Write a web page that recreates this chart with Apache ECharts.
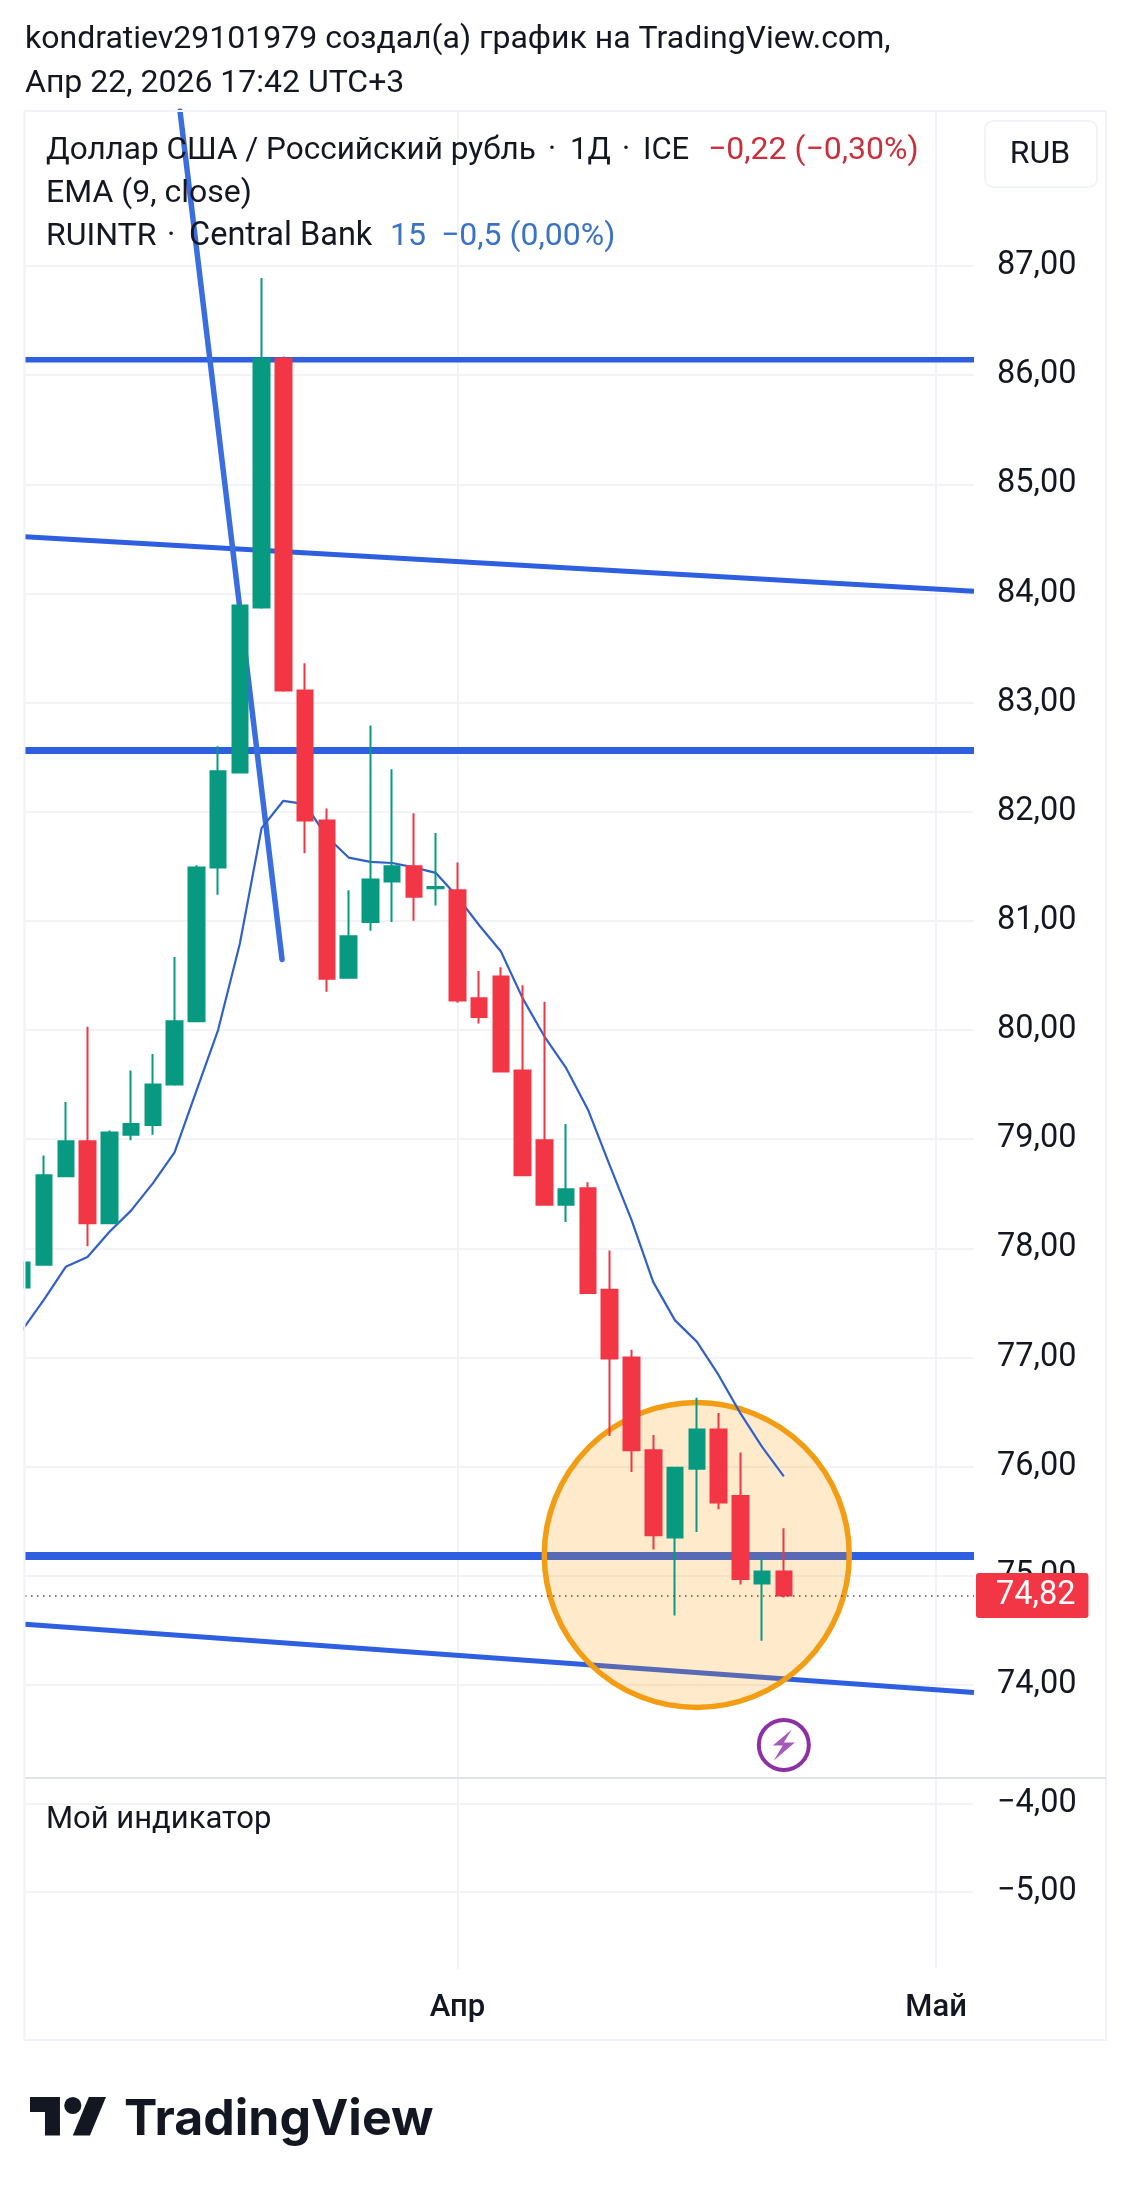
<!DOCTYPE html>
<html><head><meta charset="utf-8">
<style>html,body{margin:0;padding:0;background:#fff}#c{width:1131px;height:2194px}</style>
<script src="https://cdn.jsdelivr.net/npm/echarts@6/dist/echarts.min.js"></script>
</head><body><div id="c"></div>
<script>
// session index = array position - 1 (first session is cut by the left edge)
const opens  = [77.64,77.85,78.66,78.98,78.23,79.04,79.13,79.50,80.08,81.49,82.36,83.87,86.15,83.11,81.92,80.48,80.99,81.36,81.50,81.30,81.28,80.29,80.49,79.63,78.99,78.40,78.55,77.62,77.00,76.15,75.35,75.98,76.34,75.73,74.93,75.04];
const closes = [77.87,78.67,78.98,78.23,79.06,79.14,79.50,80.08,81.49,82.37,83.89,86.15,83.11,81.92,80.47,80.86,81.38,81.50,81.22,81.31,80.27,80.12,79.62,78.67,78.40,78.54,77.59,76.99,76.15,75.37,75.99,76.34,75.67,74.97,75.04,74.82];
const lows   = [77.64,77.85,78.66,78.02,78.23,78.99,79.04,79.49,80.08,81.24,82.36,83.86,83.10,81.62,80.35,80.47,80.91,80.99,81.00,81.14,80.25,80.06,79.62,78.67,78.39,78.24,77.59,76.28,75.95,75.24,74.635,75.40,75.61,74.92,74.405,74.80];
const highs  = [77.87,78.85,79.34,80.03,79.08,79.63,79.78,80.67,81.51,82.60,83.89,86.89,86.17,83.36,82.03,81.28,82.79,82.39,81.985,81.805,81.535,80.54,80.575,80.41,80.26,79.14,78.605,77.98,77.07,76.29,75.996,76.63,76.49,76.13,75.16,75.435];
const emaLine= [77.25,77.53,77.83,77.92,78.15,78.345,78.595,78.88,79.44,80.0,80.79,81.85,82.10,82.07,81.77,81.58,81.54,81.53,81.49,81.44,81.22,80.96,80.72,80.29,79.94,79.65,79.27,78.76,78.26,77.69,77.34,77.145,76.84,76.49,76.18,75.91];
const lastPrice = 74.82;
const levelHigh = 86.14, levelMid = 82.56, levelLow = 75.18;
const xStart = -0.873, xEnd = 42.74;
const channelTop = [[xStart,84.52],[xEnd,84.02]];
const channelBottom = [[xStart,74.555],[xEnd,73.93]];
const steepLine = [[6.25,88.42],[10.94,80.647]];
const highlight = [30,75.19];
const flash = [34,73.45];
const priceTicks = [74,75,76,77,78,79,80,81,82,83,84,85,86,87];
const indicatorTicks = [-5,-4];
const monthTicks = [19,41];
const monthLabels = ['Апр','Май'];
const FONT = 'Roboto';
const INK = '#131722';
const fmt = v => v.toFixed(2).replace('.',',').replace('-','−');

const candleRows = opens.map((o,i)=>[i-1,o,closes[i],lows[i],highs[i]]);
const emaRows = emaLine.map((v,i)=>[i-1,v]);
const segment = (pts,w,cap)=>({type:'line',data:pts,symbol:'none',silent:true,z:1,animation:false,
  lineStyle:{color:'#2e5fe0',width:w,cap:cap||'butt'},xAxisIndex:0,yAxisIndex:0});

const tx=(text,x,y,o)=>({type:'text',x,y:y+2,z:50,silent:true,style:Object.assign({text,fontFamily:FONT,fontSize:32,fill:INK,verticalAlign:'middle'},o||{})});
const logoScale=2.14,logoX=30,logoY=2088.4;
const lp=pts=>pts.map(p=>[logoX+p[0]*logoScale,logoY+p[1]*logoScale]);

const option={
  backgroundColor:'#ffffff',animation:false,
  grid:[
    {left:25,top:111,width:949,height:1667,containLabel:false},
    {left:25,top:1778,width:949,height:191,containLabel:false}
  ],
  xAxis:[0,1].map(g=>({type:'value',gridIndex:g,min:xStart,max:xEnd,
    axisLine:{show:false},axisTick:{show:false,customValues:monthTicks},
    axisLabel:{show:g===1,customValues:monthTicks,formatter:v=>monthLabels[monthTicks.indexOf(v)],
      margin:24,fontFamily:FONT,fontSize:31,fontWeight:500,color:INK,hideOverlap:false},
    splitLine:{show:true,lineStyle:{color:'#f0f3fa',width:2}}})),
  yAxis:[
    {type:'value',gridIndex:0,position:'right',min:73.147,max:88.42,
     axisLine:{show:false},axisTick:{show:false,customValues:priceTicks},
     axisLabel:{customValues:priceTicks,formatter:fmt,margin:23,padding:[8,0,0,0],fontFamily:FONT,fontSize:32.5,color:INK},
     splitLine:{show:true,lineStyle:{color:'#f2f3f6',width:2}}},
    {type:'value',gridIndex:1,position:'right',min:-5.875,max:-3.705,
     axisLine:{show:false},axisTick:{show:false,customValues:indicatorTicks},
     axisLabel:{customValues:indicatorTicks,formatter:fmt,margin:23,padding:[6,0,0,0],fontFamily:FONT,fontSize:32.5,color:INK},
     splitLine:{show:true,lineStyle:{color:'#f2f3f6',width:2}}}
  ],
  series:[
    segment([[xStart,levelHigh],[xEnd,levelHigh]],5.5),
    segment([[xStart,levelMid],[xEnd,levelMid]],7),
    segment([[xStart,levelLow],[xEnd,levelLow]],8),
    segment(channelTop,5),
    segment(channelBottom,5),
    Object.assign(segment(steepLine,5.5,'round'),{lineStyle:{color:'#3a6ee0',width:5.5,cap:'round'}}),
    {type:'scatter',data:[highlight],symbol:'circle',symbolSize:305,z:2,silent:true,clip:false,
     itemStyle:{color:'rgba(255,152,0,0.2)',borderColor:'#f29d13',borderWidth:5.5,opacity:1}},
    {type:'line',data:emaRows,symbol:'none',z:3,silent:true,smooth:false,
     lineStyle:{color:'#3060c8',width:2.2},
     markLine:{silent:true,symbol:'none',animation:false,
       lineStyle:{color:'#8a3a45',type:[1.5,4.5],width:1.5},
       label:{position:'end',distance:2,formatter:fmt(lastPrice),color:'#fff',backgroundColor:'#f23645',
         borderRadius:3,fontFamily:FONT,fontSize:32.5,padding:[7,13,5,20]},
       data:[{yAxis:lastPrice}]}},
    {type:'candlestick',data:candleRows,barWidth:16,z:4,silent:true,
     itemStyle:{color:'#089981',color0:'#f23645',borderColor:'#089981',borderColor0:'#f23645',borderWidth:2}},
    {type:'scatter',data:[flash],symbol:'circle',symbolSize:50,z:5,silent:true,clip:false,
     itemStyle:{color:'rgba(255,255,255,0)',borderColor:'#8e2fa8',borderWidth:4,opacity:1}},
    {type:'scatter',data:[flash],symbol:'path://M19 0 L0 17 L10 17 L1 33 L22 14 L11 14 Z',symbolSize:[22,31],z:5,silent:true,clip:false,
     itemStyle:{color:'#8e2fa8'}},
    {type:'line',xAxisIndex:1,yAxisIndex:1,data:[],symbol:'none'}
  ],
  graphic:[
    {type:'rect',z:30,silent:true,shape:{x:0,y:111,width:23.5,height:1667},style:{fill:'#fff'}},
    {type:'rect',z:31,silent:true,shape:{x:24.5,y:111,width:1081.5,height:1929},style:{fill:'none',stroke:'#f0f3fa',lineWidth:2}},
    {type:'line',z:31,silent:true,shape:{x1:25,y1:1778,x2:1106,y2:1778},style:{stroke:'#e0e3eb',lineWidth:2}},
    {type:'rect',z:40,silent:true,shape:{x:985,y:121,width:112,height:66,r:8},style:{fill:'#fff',stroke:'#f0f3fa',lineWidth:2}},
    tx('RUB',1040,153,{align:'center'}),
    tx('kondratiev29101979 создал(а) график на TradingView.com,',25,38),
    tx('Апр 22, 2026 17:42 UTC+3',25,82),
    tx('Доллар США / Российский рубль',46,149,{fontSize:31.5}),
    tx('·',548,149,{fontSize:31}),
    tx('1Д',570,149,{fontSize:31}),
    tx('·',622,149,{fontSize:31}),
    tx('ICE',643,149,{fontSize:31}),
    tx('−0,22 (−0,30%)',708,149,{fill:'#cc2f3c'}),
    tx('EMA (9, close)',46,192),
    tx('RUINTR',46,235),
    tx('·',167,235),
    tx('Central Bank',189,235,{fontSize:32.5}),
    tx('15',390,235,{fill:'#3a72c8'}),
    tx('−0,5 (0,00%)',441,235,{fill:'#3a72c8'}),
    tx('Мой индикатор',46,1818,{fontSize:31}),
    {type:'polygon',z:50,silent:true,shape:{points:lp([[0,4],[14,4],[14,22],[7,22],[7,11],[0,11]])},style:{fill:INK}},
    {type:'polygon',z:50,silent:true,shape:{points:lp([[27.5,4],[35.5,4],[28,22],[20,22]])},style:{fill:INK}},
    {type:'circle',z:50,silent:true,shape:{cx:logoX+20*logoScale,cy:logoY+8*logoScale,r:4*logoScale},style:{fill:INK}},
    {type:'text',x:124,y:2120,z:50,silent:true,style:{text:'TradingView',fontFamily:'Inter',fontSize:50,fontWeight:700,fill:INK,verticalAlign:'middle'}}
  ]
};
const chart=echarts.init(document.getElementById('c'),null,{renderer:'canvas',width:1131,height:2194});
chart.setOption(option);
</script></body></html>
